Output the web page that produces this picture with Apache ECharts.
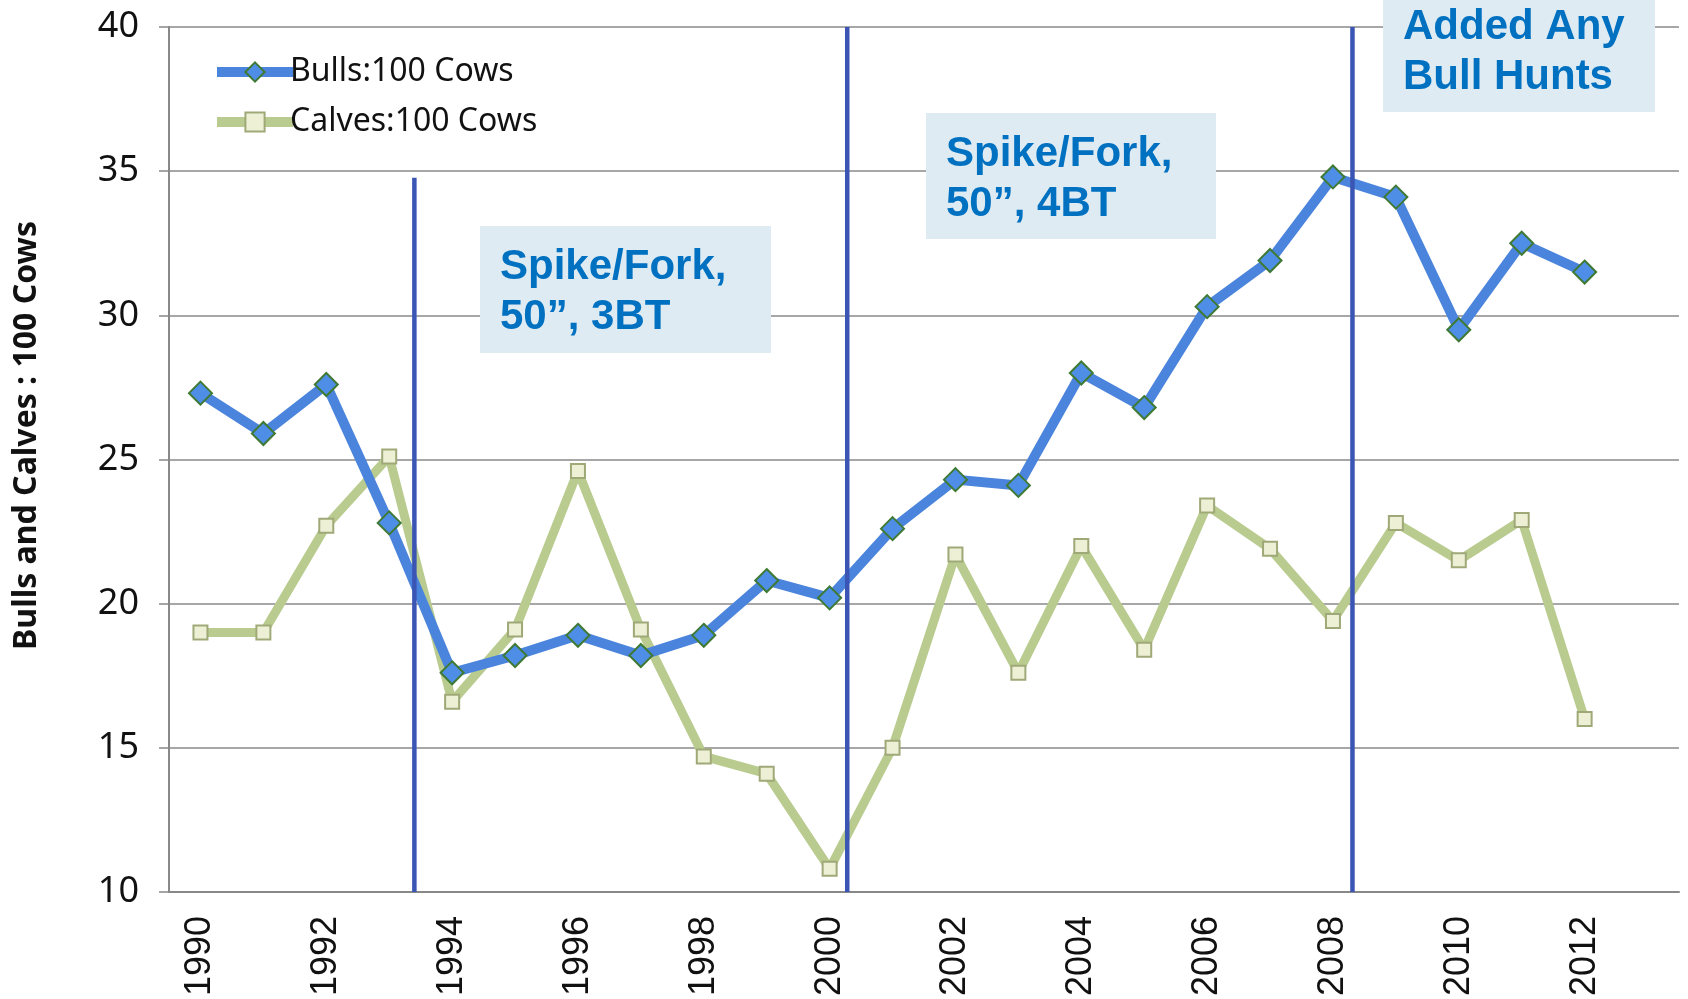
<!DOCTYPE html>
<html>
<head>
<meta charset="utf-8">
<title>Bulls and Calves : 100 Cows</title>
<script src="https://cdn.jsdelivr.net/npm/echarts@6/dist/echarts.min.js"></script>
<style>
	html, body { margin: 0; padding: 0; background: #fff; }
	#chart { width: 1688px; height: 999px; }
</style>
</head>
<body>
<div id="chart"></div>
<script>
	// years on the category axis (2013 is an empty slot, as in the original)
	var years = ['1990', '1991', '1992', '1993', '1994', '1995', '1996', '1997', '1998', '1999', '2000',
		'2001', '2002', '2003', '2004', '2005', '2006', '2007', '2008', '2009', '2010', '2011', '2012', '2013']
	var bulls = [27.3, 25.9, 27.6, 22.8, 17.6, 18.2, 18.9, 18.2, 18.9, 20.8, 20.2,
		22.6, 24.3, 24.1, 28.0, 26.8, 30.3, 31.9, 34.8, 34.1, 29.5, 32.5, 31.5]
	var calves = [19.0, 19.0, 22.7, 25.1, 16.6, 19.1, 24.6, 19.1, 14.7, 14.1, 10.8,
		15.0, 21.7, 17.6, 22.0, 18.4, 23.4, 21.9, 19.4, 22.8, 21.5, 22.9, 16.0]
	var yTicks = [10, 15, 20, 25, 30, 35, 40]
	// regulation change markers: [year position, top value]
	var changeLines = [[1993.4, 34.77], [2000.28, 40], [2008.31, 40]]
	var notes = [
		['Spike/Fork,', '50”, 3BT'],
		['Spike/Fork,', '50”, 4BT'],
		['Added Any', 'Bull Hunts']
	]

	var boxes = [
		{ x: 480, y: 226, w: 291, h: 127 },
		{ x: 926, y: 113, w: 290, h: 126 },
		{ x: 1383, y: 0, w: 272, h: 112 }
	]

	var chart = echarts.init(document.getElementById('chart'))

	var seriesData = [{
		name: 'Bulls:100 Cows',
		type: 'line',
		data: bulls,
		symbol: 'diamond',
		symbolSize: 23,
		lineStyle: { color: '#4a84dc', width: 10 },
		itemStyle: { color: '#4f8ee6', borderColor: '#3f7a34', borderWidth: 2 },
		z: 3
	}, {
		name: 'Calves:100 Cows',
		type: 'line',
		data: calves,
		symbol: 'rect',
		symbolSize: 14,
		lineStyle: { color: '#b9cb8e', width: 9 },
		itemStyle: { color: '#eef0d6', borderColor: '#9fa978', borderWidth: 2 },
		z: 2
	}]

	changeLines.forEach(function (c) {
		seriesData.push({
			type: 'line',
			xAxisIndex: 1,
			data: [[c[0], c[1]], [c[0], 10]],
			symbol: 'none',
			silent: true,
			lineStyle: { color: '#3b55b5', width: 4.5 },
			z: 5
		})
	})

	var graphics = []
	boxes.forEach(function (b, i) {
		graphics.push({
			type: 'rect',
			shape: { x: b.x, y: b.y, width: b.w, height: b.h },
			style: { fill: '#deebf2' },
			z: 10
		})
		graphics.push({
			type: 'text',
			x: b.x + 20,
			y: b.y + (i == 2 ? 2 : 16),
			style: {
				text: notes[i].join('\n'),
				font: 'bold 42px "Liberation Sans", Arial, sans-serif',
				lineHeight: 50,
				fill: '#0070c0'
			},
			z: 11
		})
	})

	chart.setOption({
		animation: false,
		backgroundColor: '#fff',
		legend: {
			orient: 'vertical',
			left: 207,
			top: 51,
			itemWidth: 76,
			itemHeight: 24,
			itemGap: 18,
			data: ['Bulls:100 Cows', 'Calves:100 Cows'],
			lineStyle: { width: 10 },
			textStyle: { fontFamily: 'Noto Sans', fontSize: 32, color: '#111', padding: [0, 0, 0, -8] }
		},
		grid: {
			left: 169,
			right: 9,
			top: 27,
			bottom: 107
		},
		xAxis: [{
			type: 'category',
			data: years,
			boundaryGap: true,
			axisLine: { lineStyle: { color: '#888', width: 2 } },
			axisTick: { interval: 0, length: 12, lineStyle: { color: '#888', width: 1.5 } },
			axisLabel: {
				interval: 1,
				rotate: 90,
				margin: 24,
				fontFamily: 'Liberation Sans',
				fontSize: 36,
				color: '#111'
			}
		}, {
			type: 'value',
			min: 1989.5,
			max: 2013.5,
			show: false
		}],
		yAxis: {
			type: 'value',
			min: yTicks[0],
			max: yTicks[yTicks.length - 1],
			interval: 5,
			name: 'Bulls and Calves : 100 Cows',
			nameLocation: 'middle',
			nameRotate: 90,
			nameGap: 126,
			nameTextStyle: {
				fontFamily: 'Noto Sans',
				fontWeight: 'bold',
				fontSize: 32,
				color: '#111',
				padding: [0, 0, 0, 48]
			},
			axisLine: { show: true, lineStyle: { color: '#888', width: 2 } },
			axisTick: { show: true, length: 10, lineStyle: { color: '#888', width: 1.5 } },
			axisLabel: { margin: 30, fontFamily: 'Noto Sans', fontSize: 36, color: '#111' },
			splitLine: { lineStyle: { color: '#8a8a8a', width: 1.5 } }
		},
		series: seriesData,
		graphic: graphics
	})
</script>
</body>
</html>
